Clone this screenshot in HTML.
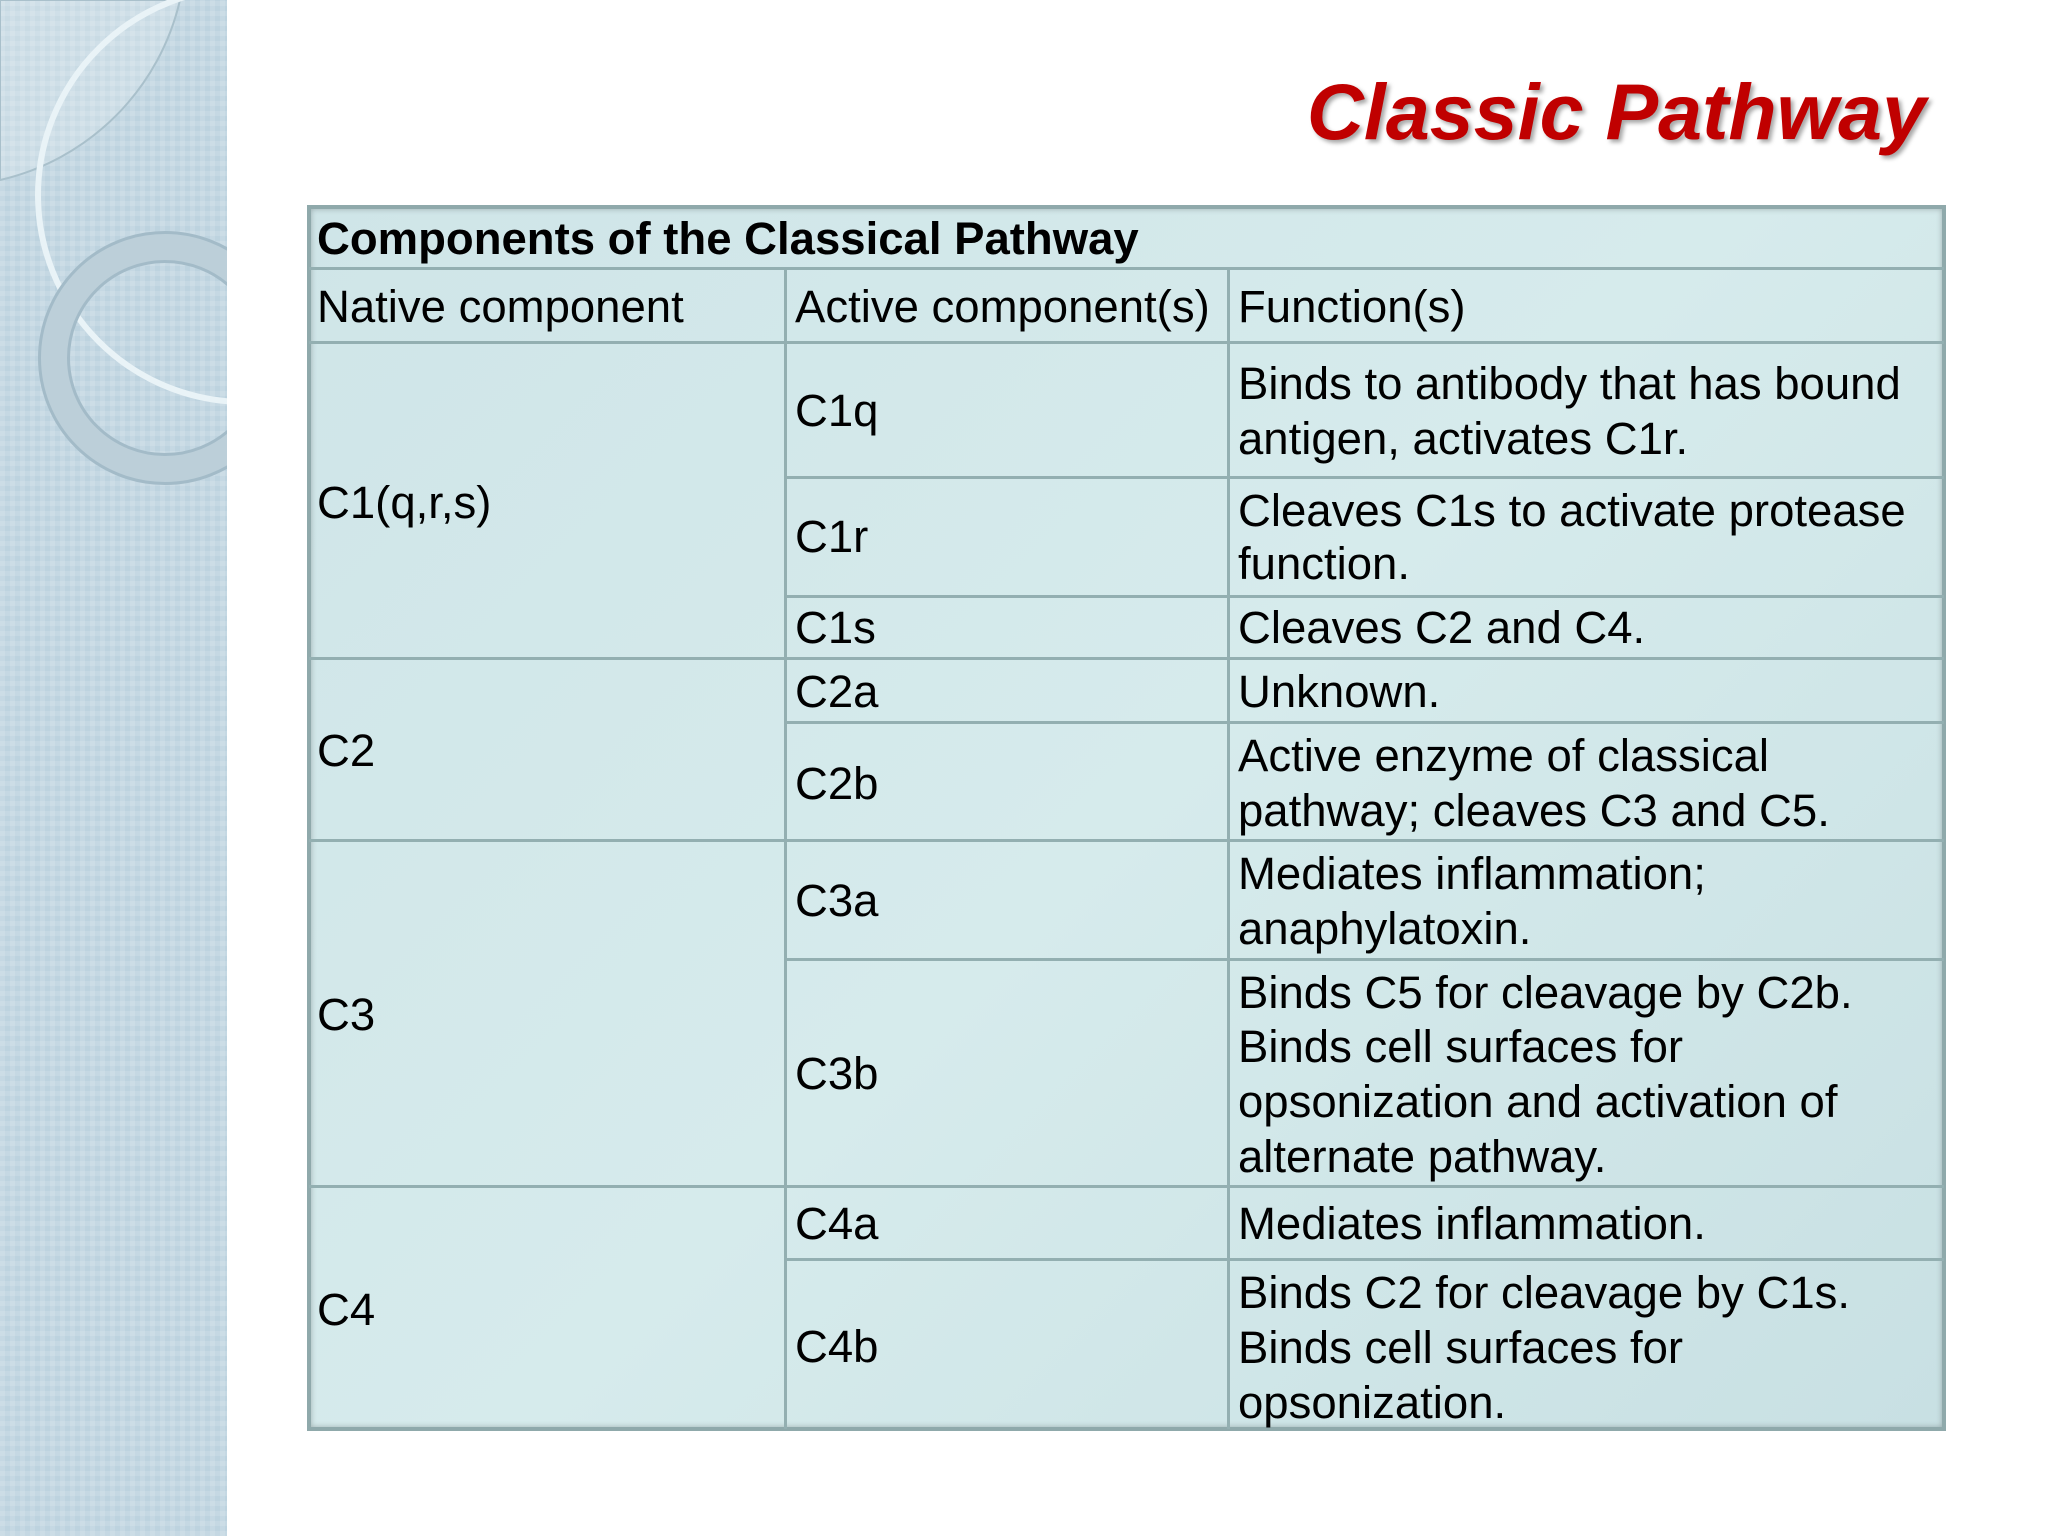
<!DOCTYPE html>
<html><head><meta charset="utf-8"><style>
*{margin:0;padding:0;box-sizing:border-box}
body{width:2048px;height:1536px;position:relative;background:#fff;overflow:hidden;font-family:"Liberation Sans",Arial,sans-serif;}
.band{position:absolute;left:0;top:0;width:227px;height:1536px;background:#bdd3df;
background-image:repeating-linear-gradient(0deg,rgba(255,255,255,.12) 0 5px,transparent 5px 10px),repeating-linear-gradient(90deg,rgba(255,255,255,.12) 0 5px,transparent 5px 10px);}
.title{position:absolute;right:122px;top:72px;font-size:79px;font-weight:bold;font-style:italic;color:#c00000;text-shadow:3px 3px 4px rgba(0,0,0,.35);white-space:nowrap;line-height:1}
.tbl{position:absolute;left:307px;top:205px;width:1639px;height:1226px;background:linear-gradient(135deg,#cfe5e8,#d6ebec 50%,#c8e0e3);border:4px solid #8fa9ab;box-shadow:inset 0 0 6px rgba(0,0,0,.25)}
.h{position:absolute;height:3px;background:#93afb1}
.v{position:absolute;width:3px;background:#93afb1}
.t{position:absolute;font-size:45.5px;line-height:55px;color:#000;white-space:nowrap}
</style></head><body>
<div class="band"></div>
<svg style="position:absolute;left:0;top:0" width="227" height="520">
<path d="M0 0 H180 A240 240 0 0 1 0 180 Z" fill="rgba(255,255,255,0.18)" stroke="#a9c0cb" stroke-width="2"/>
<circle cx="245" cy="195" r="207" fill="none" stroke="#e9f3f7" stroke-width="6"/>
<circle cx="165" cy="358" r="111" fill="none" stroke="#a3bbc8" stroke-width="32"/>
<circle cx="165" cy="358" r="111" fill="none" stroke="#bccfd9" stroke-width="26"/>
</svg>
<div class="title">Classic Pathway</div>
<div class="tbl"></div>
<div class="h" style="left:309px;width:1635px;top:267px"></div>
<div class="h" style="left:309px;width:1635px;top:341px"></div>
<div class="h" style="left:785px;width:1159px;top:476px"></div>
<div class="h" style="left:785px;width:1159px;top:595px"></div>
<div class="h" style="left:309px;width:1635px;top:657px"></div>
<div class="h" style="left:785px;width:1159px;top:721px"></div>
<div class="h" style="left:309px;width:1635px;top:839px"></div>
<div class="h" style="left:785px;width:1159px;top:958px"></div>
<div class="h" style="left:309px;width:1635px;top:1185px"></div>
<div class="h" style="left:785px;width:1159px;top:1258px"></div>
<div class="v" style="left:784px;top:268px;height:1161px"></div>
<div class="v" style="left:1227px;top:268px;height:1161px"></div>

<div class="t" style="left:317px;top:211px;font-weight:bold">Components of the Classical Pathway</div>
<div class="t" style="left:317px;top:279px">Native component</div>
<div class="t" style="left:795px;top:279px">Active component(s)</div>
<div class="t" style="left:1238px;top:279px">Function(s)</div>

<div class="t" style="left:317px;top:475px">C1(q,r,s)</div>
<div class="t" style="left:795px;top:383px">C1q</div>
<div class="t" style="left:1238px;top:356px">Binds to antibody that has bound</div>
<div class="t" style="left:1238px;top:411px">antigen, activates C1r.</div>
<div class="t" style="left:795px;top:509px">C1r</div>
<div class="t" style="left:1238px;top:483px">Cleaves C1s to activate protease</div>
<div class="t" style="left:1238px;top:536px">function.</div>
<div class="t" style="left:795px;top:600px">C1s</div>
<div class="t" style="left:1238px;top:600px">Cleaves C2 and C4.</div>

<div class="t" style="left:317px;top:723px">C2</div>
<div class="t" style="left:795px;top:664px">C2a</div>
<div class="t" style="left:1238px;top:664px">Unknown.</div>
<div class="t" style="left:795px;top:756px">C2b</div>
<div class="t" style="left:1238px;top:728px">Active enzyme of classical</div>
<div class="t" style="left:1238px;top:783px">pathway; cleaves C3 and C5.</div>

<div class="t" style="left:317px;top:987px">C3</div>
<div class="t" style="left:795px;top:873px">C3a</div>
<div class="t" style="left:1238px;top:846px">Mediates inflammation;</div>
<div class="t" style="left:1238px;top:901px">anaphylatoxin.</div>
<div class="t" style="left:795px;top:1046px">C3b</div>
<div class="t" style="left:1238px;top:965px">Binds C5 for cleavage by C2b.</div>
<div class="t" style="left:1238px;top:1019px">Binds cell surfaces for</div>
<div class="t" style="left:1238px;top:1074px">opsonization and activation of</div>
<div class="t" style="left:1238px;top:1129px">alternate pathway.</div>

<div class="t" style="left:317px;top:1282px">C4</div>
<div class="t" style="left:795px;top:1196px">C4a</div>
<div class="t" style="left:1238px;top:1196px">Mediates inflammation.</div>
<div class="t" style="left:795px;top:1319px">C4b</div>
<div class="t" style="left:1238px;top:1265px">Binds C2 for cleavage by C1s.</div>
<div class="t" style="left:1238px;top:1320px">Binds cell surfaces for</div>
<div class="t" style="left:1238px;top:1375px">opsonization.</div>
</body></html>
